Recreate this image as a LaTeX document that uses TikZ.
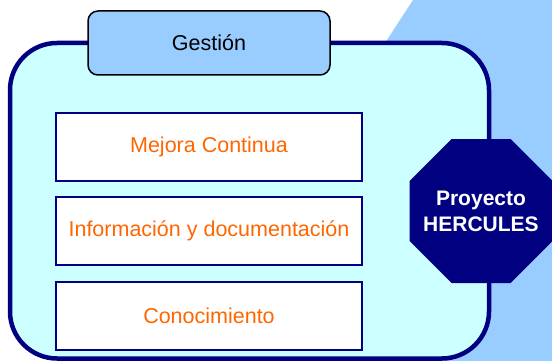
\documentclass[tikz,border=0pt]{standalone}
\usepackage{fontspec}
\setmainfont{Liberation Sans}
\definecolor{navy}{HTML}{000080}
\definecolor{lightsky}{HTML}{99CCFF}
\definecolor{paleaqua}{HTML}{CCFFFF}
\definecolor{orangetxt}{HTML}{FF6600}
\begin{document}
\begin{tikzpicture}[x=1pt,y=-1pt,
  itembox/.style={draw=navy,line width=2pt,fill=white,minimum width=306pt,minimum height=68pt,inner sep=0pt,
    text=orangetxt,font=\fontsize{21.5}{25}\selectfont},
  tabbox/.style={draw=black,line width=1.5pt,fill=lightsky,rounded corners=10pt,minimum width=242pt,minimum height=64pt,
    inner sep=0pt,font=\fontsize{21.5}{25}\selectfont},
  octlabel/.style={text=white,font=\fontsize{21}{25.5}\selectfont\bfseries,align=center,inner sep=0pt}]
\useasboundingbox (0,0) rectangle (552,361);
\fill[white] (0,0) rectangle (552,361);
% background band
\fill[lightsky] (413,0) -- (552,0) -- (552,361) -- (178,361) -- cycle;
% main rounded container
\draw[navy,line width=4.5pt,fill=paleaqua,rounded corners=47pt] (10,43) rectangle (489,358.5);
% tab
\node[tabbox] (gestion) at (209,43) {Gestión};
% items
\node[itembox] (mejora) at (209,147) {Mejora Continua};
\node[itembox] (info) at (209,230.5) {Información y documentación};
\node[itembox] (conoc) at (209,316) {Conocimiento};
% octagon
\fill[navy] (451.5,139) -- (510.5,139) -- (552.5,181) -- (552.5,241) -- (510.5,283) -- (451.5,283) -- (409.5,241) -- (409.5,181) -- cycle;
\node[octlabel] (proy) at (481,211.5) {Proyecto\\HERCULES};
\end{tikzpicture}
\end{document}
